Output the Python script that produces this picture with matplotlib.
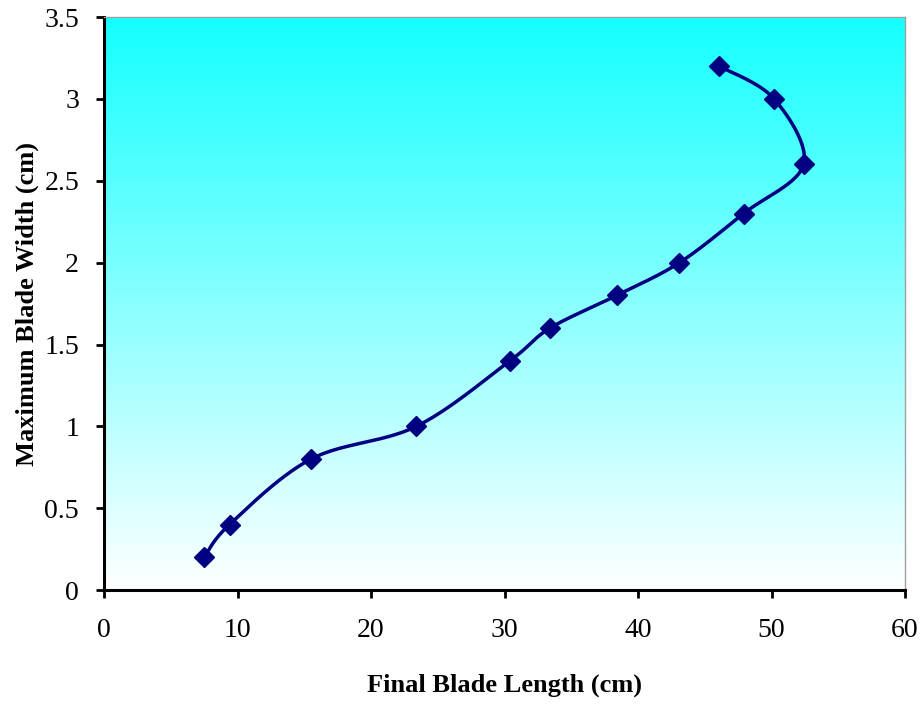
import numpy as np
import matplotlib.pyplot as plt

plt.rcParams['font.family'] = ['Liberation Serif', 'DejaVu Serif']

blade_length = [7.5, 9.4, 15.5, 23.4, 30.4, 33.4, 38.4, 43.1, 47.9, 52.4, 50.2, 46.1]
blade_width = [0.2, 0.4, 0.8, 1.0, 1.4, 1.6, 1.8, 2.0, 2.3, 2.6, 3.0, 3.2]

fig = plt.figure(figsize=(9.24, 7.09), dpi=100)
ax = fig.add_axes([0.1126, 0.1678, 0.8669, 0.808])
ax.set_xlim(0, 60)
ax.set_ylim(0, 3.5)

# cyan-to-white background fill
grad = np.linspace(0, 1, 256).reshape(-1, 1)
top = np.array([0.08, 1.0, 1.0])
bottom = np.array([1.0, 1.0, 1.0])
img = bottom + (top - bottom) * grad[..., None]
ax.imshow(img, extent=[0, 60, 0, 3.5], origin='lower', aspect='auto', zorder=0)

# smoothed line through the points (cardinal spline in screen space)
pts = ax.transData.transform(np.column_stack([blade_length, blade_width]))
ext = np.vstack([pts[0], pts, pts[-1]])
curve = []
t = np.linspace(0, 1, 30)[:, None]
for i in range(1, len(ext) - 2):
    p0, p1, p2, p3 = ext[i - 1], ext[i], ext[i + 1], ext[i + 2]
    c1 = p1 + (p2 - p0) / 6
    c2 = p2 - (p3 - p1) / 6
    seg = (1 - t)**3 * p1 + 3 * (1 - t)**2 * t * c1 + 3 * (1 - t) * t**2 * c2 + t**3 * p2
    curve.append(seg)
curve = ax.transData.inverted().transform(np.vstack(curve))
ax.plot(curve[:, 0], curve[:, 1], color='#000080', lw=2.5, zorder=2)
ax.plot(blade_length, blade_width, linestyle='none', marker='D', ms=10.5,
        color='#000080', zorder=3)

ax.set_xticks(np.arange(0, 61, 10))
ax.set_yticks(np.arange(0, 3.51, 0.5))
ax.set_yticklabels(['0', '0.5', '1', '1.5', '2', '2.5', '3', '3.5'])
ax.tick_params(direction='out', length=6, width=2, labelsize=20, pad=12)
ax.tick_params(axis='x', pad=14)

for side in ['left', 'bottom']:
    ax.spines[side].set_linewidth(2.2)
for side in ['top', 'right']:
    ax.spines[side].set_color('#a0a0a0')
    ax.spines[side].set_linewidth(1)

ax.set_xlabel('Final Blade Length (cm)', fontsize=19, fontweight='bold', labelpad=22)
ax.set_ylabel('Maximum Blade Width (cm)', fontsize=19, fontweight='bold', labelpad=4)

fig.savefig('out.png', dpi=100)
